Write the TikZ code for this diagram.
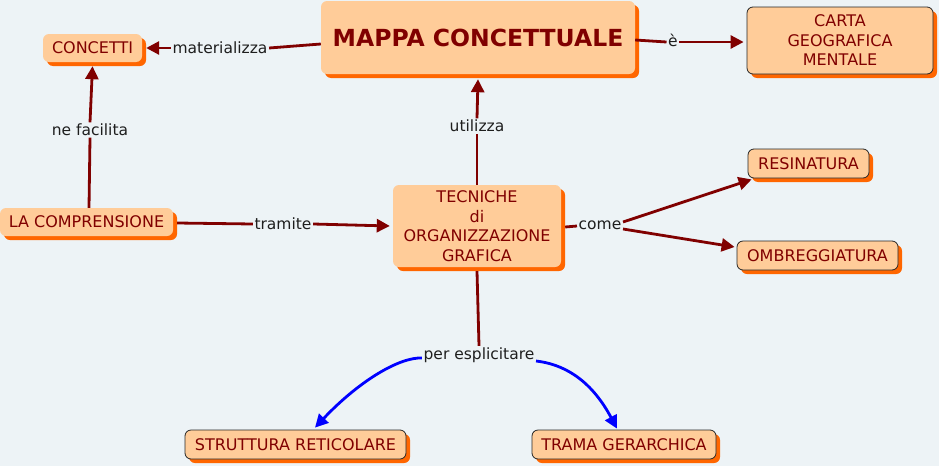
\documentclass[tikz,border=0pt]{standalone}
\usepackage{fontspec}
\setmainfont{DejaVu Sans}
\usetikzlibrary{arrows.meta,shadows}
\definecolor{bg}{RGB}{237,243,246}
\definecolor{peach}{RGB}{255,204,153}
\definecolor{shadowor}{RGB}{255,102,0}
\definecolor{maroon}{RGB}{128,0,0}
\definecolor{labtext}{RGB}{30,30,30}
\definecolor{linkblue}{RGB}{0,0,255}
\tikzset{
  cbox/.style={rounded corners=6pt, fill=peach, text=maroon, align=center,
    font=\fontsize{16}{19.5}\selectfont, inner sep=0pt,
    general shadow={fill=shadowor, shadow xshift=4pt, shadow yshift=-4pt}},
  bbox/.style={cbox, draw=black!85, line width=0.8pt},
  lab/.style={text=labtext, font=\fontsize{15.5}{18}\selectfont, inner sep=1.5pt},
  conn/.style={draw=maroon, line width=2.8pt},
  arr/.style={conn, -{Triangle[length=13pt,width=13pt]}},
  barr/.style={draw=linkblue, line width=2.8pt, -{Triangle[length=13pt,width=13pt]}}
}
\begin{document}
\begin{tikzpicture}[x=1pt,y=-1pt]
\fill[bg] (0,0) rectangle (939,466);
\useasboundingbox (0,0) rectangle (939,466);

% nodes
\node[cbox, minimum width=314pt, minimum height=73pt,
  font=\bfseries\fontsize{23.5}{28}\selectfont] (mappa) at (478,37.5) {MAPPA CONCETTUALE};
\node[cbox, minimum width=99pt, minimum height=28pt] (concetti) at (92.5,48) {CONCETTI};
\node[bbox, minimum width=186pt, minimum height=67pt] (carta) at (840,40.5) {CARTA\\GEOGRAFICA\\MENTALE};
\node[cbox, minimum width=168pt, minimum height=82pt] (tec) at (477,226) {TECNICHE\\di\\ORGANIZZAZIONE\\GRAFICA};
\node[cbox, minimum width=173pt, minimum height=28pt] (lacomp) at (86.5,222) {LA COMPRENSIONE};
\node[bbox, minimum width=121pt, minimum height=29pt] (resin) at (808.5,163.5) {RESINATURA};
\node[bbox, minimum width=161pt, minimum height=29pt] (omb) at (817.5,255.5) {OMBREGGIATURA};
\node[bbox, minimum width=221pt, minimum height=29pt] (struct) at (295.5,444.5) {STRUTTURA RETICOLARE};
\node[bbox, minimum width=184pt, minimum height=29pt] (trama) at (624,444.5) {TRAMA GERARCHICA};

% labels
\node[lab] (lmat) at (220,48) {materializza};
\node[lab] (le) at (673,40) {è};
\node[lab] (lutil) at (477,126) {utilizza};
\node[lab] (lnef) at (90,130) {ne facilita};
\node[lab] (ltram) at (283,224) {tramite};
\node[lab] (lcome) at (600,225) {come};
\node[lab] (lper) at (479,355) {per esplicitare};

% connectors
\draw[conn] ([yshift=-6.5pt]mappa.west) -- (lmat.east);
\draw[arr] (lmat.west) -- ([xshift=4pt]concetti.east);

\draw[conn] ([yshift=-2.5pt]mappa.east) -- ([yshift=-2pt]le.west);
\draw[arr] ([yshift=-2pt]le.east) -- ([xshift=-3pt,yshift=-1.5pt]carta.west);

\draw[conn] (tec.north) -- (lutil.south);
\draw[arr] (lutil.north) -- ([yshift=-5pt]mappa.south);

\draw[conn] ([xshift=2.5pt]lacomp.north) -- (lnef.south);
\draw[arr] (lnef.north) -- ([yshift=-4pt]concetti.south);

\draw[conn] ([xshift=4pt,yshift=-1pt]lacomp.east) -- (ltram.west);
\draw[arr] (ltram.east) -- ([xshift=-3pt]tec.west);

\draw[conn] ([xshift=4pt,yshift=-1pt]tec.east) -- ([yshift=-1pt]lcome.west);
\draw[arr] ([yshift=3pt]lcome.east) -- ([xshift=4pt,yshift=-1pt]resin.south west);
\draw[arr] ([yshift=-4pt]lcome.east) -- ([xshift=-2pt,yshift=8.5pt]omb.west);

\draw[conn] ([yshift=-4pt]tec.south) -- (lper.north);
\draw[barr] ([yshift=-3pt]lper.west) .. controls (400,357) and (360,380) .. ([xshift=19.5pt,yshift=2pt]struct.north);
\draw[barr] ([yshift=-6pt]lper.east) .. controls (562,364) and (590,378) .. ([xshift=-7pt,yshift=1pt]trama.north);
\end{tikzpicture}
\end{document}
